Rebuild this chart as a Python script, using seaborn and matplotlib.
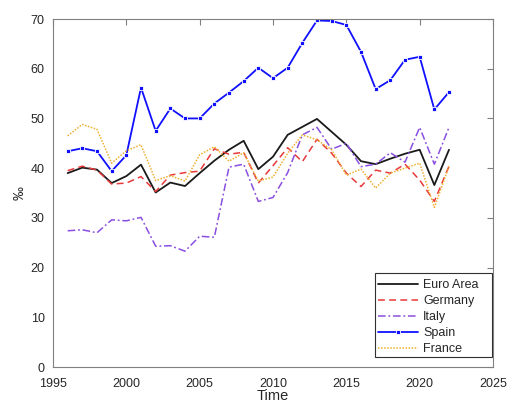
import matplotlib
matplotlib.use("Agg")
import matplotlib.pyplot as plt
from matplotlib.patches import Rectangle
import seaborn as sns
import pandas as pd

years = list(range(1996, 2023))
euro_area = [39.0, 40.1, 39.7, 37.0, 38.4, 40.7, 35.1, 37.1, 36.4, 39.0, 41.5, 43.7, 45.5, 39.8, 42.3,
             46.7, 48.3, 49.9, 47.3, 44.7, 41.4, 40.8, 41.9, 42.9, 43.7, 36.6, 43.7]
germany = [39.5, 40.4, 39.6, 36.8, 37.0, 38.3, 35.3, 38.6, 39.1, 39.4, 43.9, 42.8, 43.2, 37.0, 40.5,
           44.1, 41.3, 45.8, 43.0, 39.0, 36.3, 39.6, 39.0, 40.8, 37.6, 33.3, 40.4]
italy = [27.4, 27.6, 27.0, 29.6, 29.4, 30.1, 24.3, 24.4, 23.3, 26.3, 26.1, 40.2, 40.8, 33.3, 34.1,
         39.1, 46.7, 48.2, 43.8, 45.0, 40.3, 40.8, 43.1, 41.2, 48.2, 40.8, 48.2]
spain = [43.4, 44.0, 43.4, 39.4, 42.6, 56.2, 47.5, 52.0, 50.0, 50.0, 53.0, 55.2, 57.5, 60.2, 58.1,
         60.2, 65.2, 69.7, 69.6, 68.8, 63.4, 55.9, 57.7, 61.8, 62.4, 51.8, 55.3]
france = [46.5, 48.8, 47.8, 41.0, 43.5, 44.7, 37.5, 38.5, 37.4, 42.7, 44.3, 41.4, 43.1, 37.4, 38.2,
          43.0, 46.7, 45.7, 43.7, 38.6, 39.8, 36.0, 39.0, 40.0, 41.0, 32.1, 40.4]

series_names = ["Euro Area", "Germany", "Italy", "Spain", "France"]
x_ticks = [1995, 2000, 2005, 2010, 2015, 2020, 2025]
y_ticks = [0, 10, 20, 30, 40, 50, 60, 70]

sns.set_style("white")
plt.rcParams['font.family'] = ['Liberation Sans', 'DejaVu Sans']

W, H = 510, 409
fig = plt.figure(figsize=(W / 100, H / 100), dpi=100)
ax_l, ax_r, ax_t, ax_b = 53, 493, 19, 367
ax = fig.add_axes([ax_l / W, (H - ax_b) / H, (ax_r - ax_l) / W, (ax_b - ax_t) / H])

data = {"Euro Area": euro_area, "Germany": germany, "Italy": italy, "Spain": spain, "France": france}
styles = {
    "Euro Area": dict(color="#1a1a1a", lw=1.3, dashes=None),
    "Germany": dict(color="#e8393a", lw=1.1, dashes=(4.5, 2.8)),
    "Italy": dict(color="#8a4fe0", lw=1.1, dashes=(5, 1.8, 1.2, 1.8)),
    "Spain": dict(color="#1010ff", lw=1.3, dashes=None),
    "France": dict(color="#f0b030", lw=1.1, dashes=(1, 1)),
}
for name in series_names:
    df = pd.DataFrame({"year": years, "value": data[name]})
    st = styles[name]
    kw = {}
    if name == "Spain":
        kw = dict(marker="s", markersize=2.6, markeredgewidth=0.6)
    sns.lineplot(data=df, x="year", y="value", ax=ax, color=st["color"], linewidth=st["lw"],
                 label=name, **kw)
    line = ax.get_lines()[-1]
    if st["dashes"] is not None:
        line.set_dashes(st["dashes"])

ax.set_xlim(1995, 2025)
ax.set_ylim(0, 70)
ax.set_xticks(x_ticks)
ax.set_yticks(y_ticks)
ax.tick_params(axis="both", direction="in", length=4, width=0.8, colors="#808080",
               labelcolor="#262626", labelsize=9, top=True, right=True,
               labeltop=False, labelright=False)
ax.tick_params(axis="x", pad=8)
ax.tick_params(axis="y", pad=6)
for sp in ax.spines.values():
    sp.set_color("#808080")
    sp.set_linewidth(0.8)
ax.set_xlabel("Time", fontsize=10.5, color="#262626", labelpad=-1)
ax.set_ylabel("‰", fontsize=10, color="#262626", labelpad=3)

# legend frame (MATLAB-like box) and legend entries
lx0, lx1, ly0, ly1 = 375, 492, 273, 357
def fx(px):
    return (px - ax_l) / (ax_r - ax_l)
def fy(py):
    return (ax_b - py) / (ax_b - ax_t)
ax.add_patch(Rectangle((fx(lx0), fy(ly1)), fx(lx1) - fx(lx0), fy(ly0) - fy(ly1),
                       transform=ax.transAxes, facecolor="white", edgecolor="#303030",
                       linewidth=0.8, zorder=5))
leg = ax.legend(loc="upper left", bbox_to_anchor=(fx(lx0), fy(ly0 + 3)), fontsize=9, frameon=False,
                handlelength=3.2, handletextpad=0.4, labelspacing=0.33, borderpad=0.24,
                borderaxespad=0)
leg.set_zorder(6)

fig.savefig("out.png", dpi=100)
